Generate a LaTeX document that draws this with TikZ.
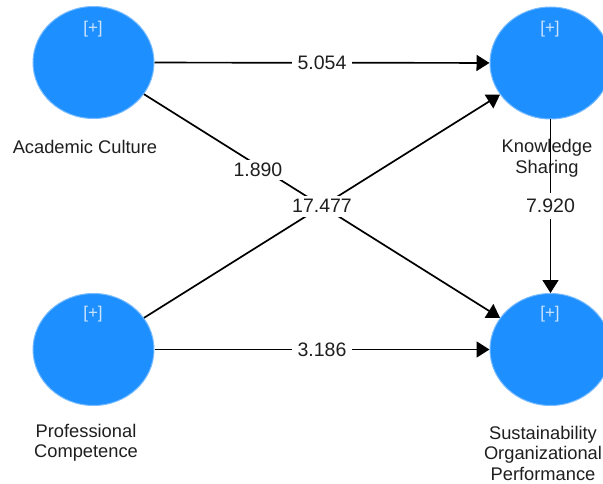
\documentclass[tikz,border=0pt]{standalone}
\usepackage{fontspec}
\setmainfont{Liberation Sans}
\usetikzlibrary{shapes.geometric,arrows.meta}
\definecolor{cblue}{RGB}{30,143,255}
\definecolor{cedge}{RGB}{120,188,255}
\definecolor{plus}{RGB}{205,228,255}
\begin{document}
\begin{tikzpicture}[x=1pt,y=-1pt,
  lv/.style={ellipse,fill=cblue,draw=cedge,line width=1pt,minimum width=121pt,minimum height=112pt,inner sep=0pt},
  nm/.style={font=\fontsize{18.3}{20.5}\selectfont,align=center,text=black!88},
  plusmark/.style={font=\fontsize{17}{19}\selectfont,text=plus},
  arr/.style={line width=1.7pt,-{Triangle[length=13pt,width=16pt]}},
  val/.style={fill=white,inner xsep=6pt,inner ysep=6pt,font=\fontsize{19.5}{21}\selectfont,text=black!88}]
\useasboundingbox (0,0) rectangle (603,484);
\clip (0,0) rectangle (603,484);
\fill[white] (0,0) rectangle (603,484);
\node[lv] (ac) at (93.5,62.5) {};
\node[lv] (ks) at (550.5,63) {};
\node[lv] (pc) at (93.5,349.5) {};
\node[lv] (sop) at (550.5,349.5) {};
\node[plusmark] (acp) at (93,29) {[+]};
\node[plusmark] (ksp) at (550,29) {[+]};
\node[plusmark] (pcp) at (93,314) {[+]};
\node[plusmark] (sopp) at (550,314) {[+]};
\node[nm] (acl) at (85,147) {Academic Culture};
\node[nm] (ksl) at (547,158.5) {Knowledge\\Sharing};
\node[nm] (pcl) at (86,443) {Professional\\Competence};
\node[nm] (sopl) at (543,453) {Sustainability\\Organizational\\Performance};
\draw[arr] (ac) -- node[val] (v1) {5.054} (ks);
\draw[arr] (ac) -- node[val,pos=0.32,inner sep=3pt,yshift=-4pt] (v2) {1.890} (sop);
\draw[arr] (pc) -- node[val,inner sep=4pt] (v3) {17.477} (ks);
\draw[arr] (pc) -- node[val] (v4) {3.186} (sop);
\draw[arr] (ks) -- node[val] (v5) {7.920} (sop);
\end{tikzpicture}
\end{document}
